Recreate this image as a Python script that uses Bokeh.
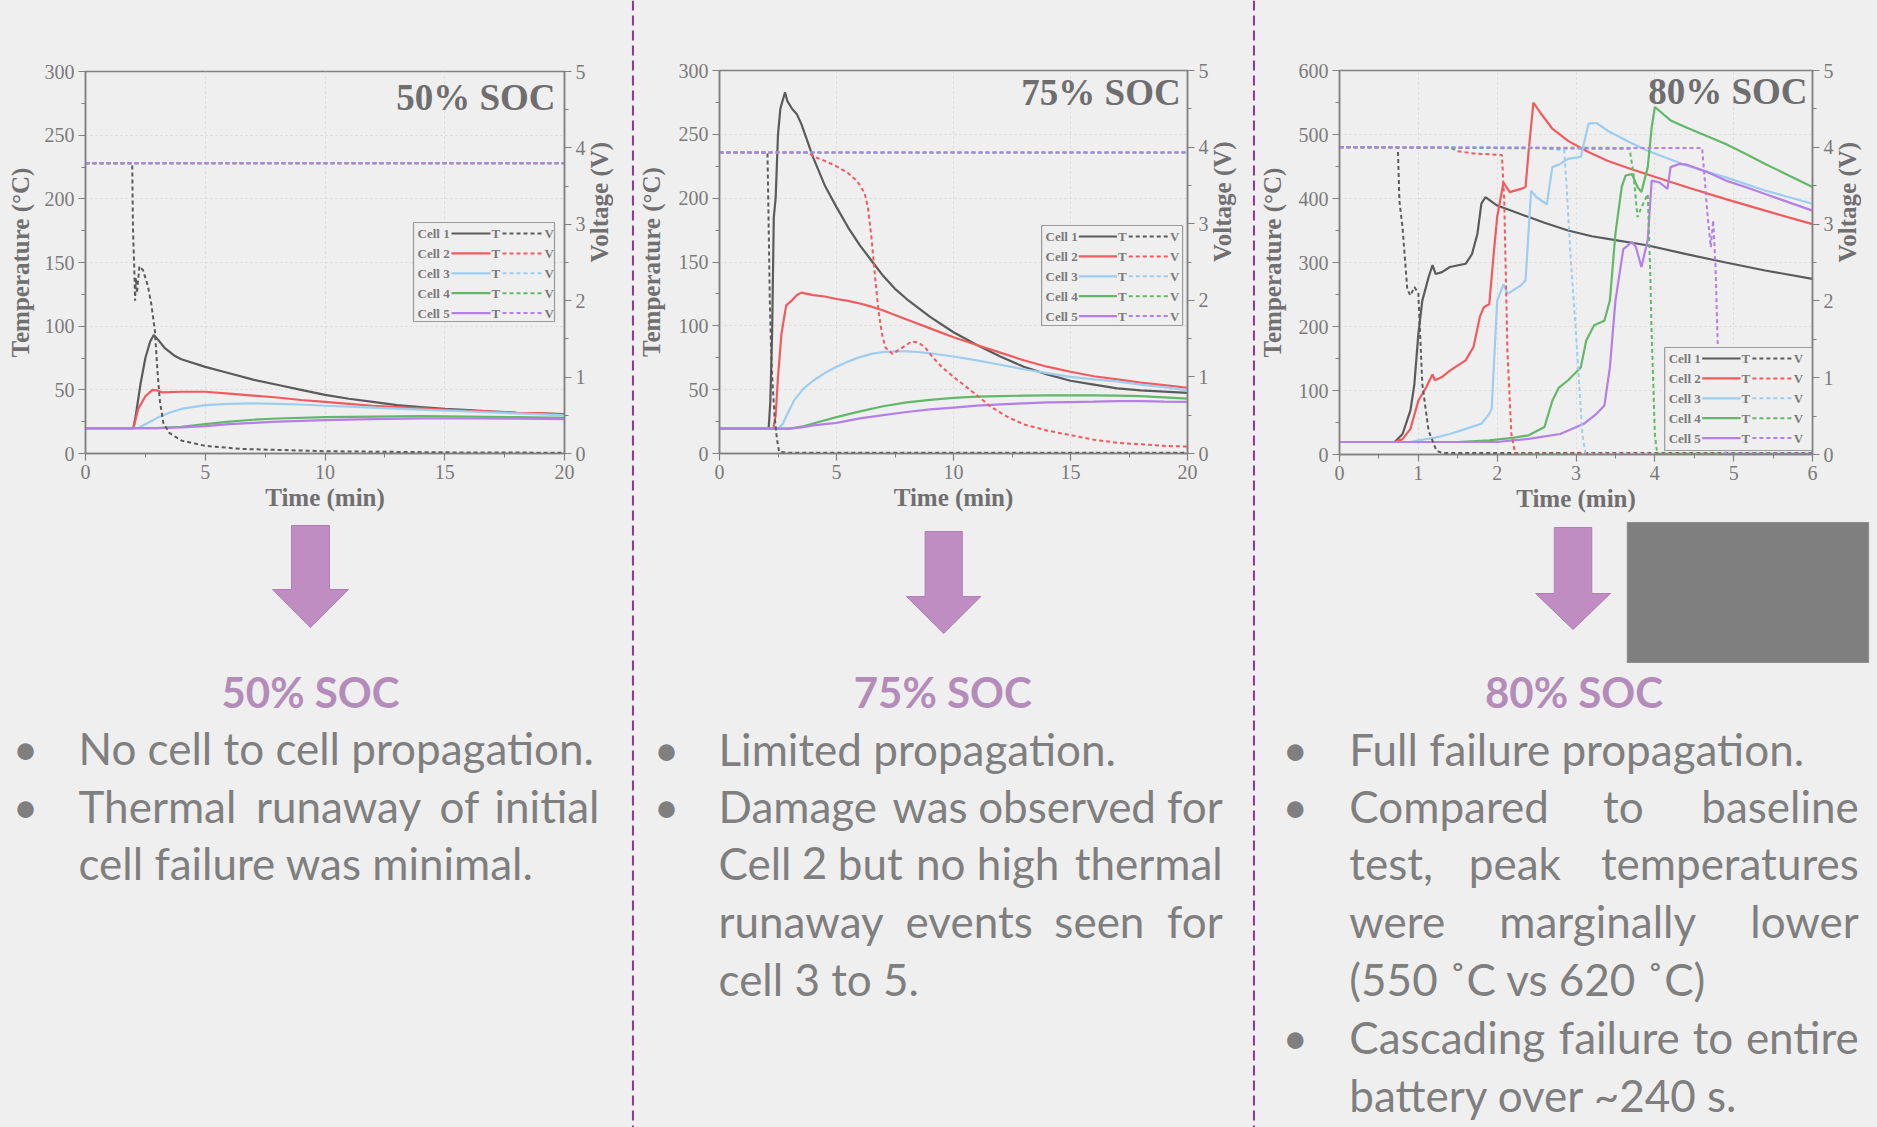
import numpy as np
from bokeh.plotting import figure
from bokeh.models import Range1d, LinearAxis, SingleIntervalTicker
from bokeh.layouts import row, column
from bokeh.embed import file_html
from bokeh.resources import INLINE
from bokeh.core.properties import value

# ---------------------------------------------------------------------------
# Data: cell temperatures (min, degC) and voltages (min, V) for three SOC tests
# ---------------------------------------------------------------------------
cell_names = ["Cell 1", "Cell 2", "Cell 3", "Cell 4", "Cell 5"]
cell_colors = ["#5b5b5b", "#f15b5d", "#9dcdf0", "#62b867", "#b47fe6"]

# 50% SOC
soc50_cell1_temp = [(0, 20), (2.0, 20), (2.1, 30), (2.3, 55), (2.5, 75), (2.7, 88), (2.85, 93), (3.0, 90),
                    (3.3, 83), (3.7, 77), (4.0, 74), (5, 68), (6, 63), (7, 58), (8, 54), (9, 50), (10, 46),
                    (11, 43), (12, 40.5), (13, 38), (14, 36.5), (15, 35), (16, 34), (17, 33), (18, 32),
                    (19, 31.5), (20, 31)]
soc50_cell2_temp = [(0, 20), (2.0, 20), (2.2, 35), (2.5, 45), (2.8, 50), (3.0, 49.5), (3.2, 48), (4, 48.5),
                    (5, 48.5), (6, 47), (7, 45.5), (8, 44), (9, 42), (10, 40.5), (11, 39), (12, 37.5),
                    (13, 36.5), (14, 35.5), (15, 34.5), (16, 33.5), (17, 33), (18, 32), (19, 31.5), (20, 30.5)]
soc50_cell3_temp = [(0, 20), (2.2, 20), (2.6, 24), (3, 28), (3.5, 32), (4, 35), (5, 38), (6, 39), (7, 39.3),
                    (8, 39), (9, 38.5), (10, 37.5), (12, 36), (14, 34.5), (16, 33), (18, 31.5), (20, 30)]
soc50_cell4_temp = [(0, 20), (3, 20), (4, 21), (5, 23), (6, 25), (7, 26.5), (8, 27.5), (10, 28.5), (12, 29),
                    (14, 29.3), (16, 29), (18, 28.5), (20, 28)]
soc50_cell5_temp = [(0, 20), (3, 20), (4, 20.5), (5, 21.5), (6, 23), (7, 24), (8, 25), (10, 26.2), (12, 27),
                    (14, 27.5), (16, 27.5), (18, 27.3), (20, 27)]
soc50_cell1_volt = [(0, 3.8), (1.95, 3.8), (1.98, 3.0), (2.0, 2.75), (2.03, 2.5), (2.07, 2.0), (2.1, 2.3),
                    (2.15, 2.1), (2.25, 2.45), (2.4, 2.4), (2.6, 2.2), (2.75, 1.95), (2.9, 1.6), (3.0, 1.1),
                    (3.1, 0.7), (3.25, 0.4), (3.5, 0.27), (4, 0.17), (5, 0.1), (6.5, 0.06), (10, 0.03),
                    (15, 0.015), (20, 0.01)]
soc50_cell2_volt = [(0, 3.8), (20, 3.8)]
soc50_cell3_volt = [(0, 3.8), (20, 3.8)]
soc50_cell4_volt = [(0, 3.8), (20, 3.8)]
soc50_cell5_volt = [(0, 3.8), (20, 3.8)]

# 75% SOC
soc75_cell1_temp = [(0, 19.5), (2.1, 19.5), (2.17, 40), (2.25, 95), (2.32, 185), (2.4, 200), (2.5, 250),
                    (2.6, 270), (2.8, 283), (2.9, 276), (3.1, 270), (3.3, 266), (3.5, 258), (4, 232),
                    (4.5, 210), (5, 193), (5.5, 177), (6, 163), (6.5, 151), (7, 139), (7.5, 129), (8, 121),
                    (9, 107), (10, 95), (11, 85), (12, 76), (13, 68), (14, 62), (15, 57), (16, 54), (17, 51),
                    (18, 49.5), (19, 48.5), (20, 47.5)]
soc75_cell2_temp = [(0, 19.5), (2.3, 19.5), (2.4, 30), (2.5, 60), (2.65, 94), (2.85, 116), (3.1, 120),
                    (3.3, 124), (3.5, 126), (4, 124), (4.5, 123), (5, 121), (5.5, 119.5), (6, 117.5),
                    (6.5, 115), (7, 112), (7.5, 108.5), (8, 105), (9, 98), (10, 91), (11, 85), (12, 79),
                    (13, 73), (14, 68), (15, 64), (16, 60.5), (17, 58), (18, 55.5), (19, 53.5), (20, 51.5)]
soc75_cell3_temp = [(0, 19.5), (2.5, 19.5), (2.7, 23), (2.9, 31), (3.2, 42), (3.6, 51), (4, 57), (4.5, 63),
                    (5, 68), (5.5, 72), (6, 75.5), (6.5, 78), (7, 79.5), (7.5, 80), (8, 80), (8.5, 79.5),
                    (9, 78.5), (10, 76), (11, 73), (12, 69.5), (13, 66), (14, 63), (15, 60), (16, 58),
                    (17, 56.5), (18, 54), (19, 52), (20, 49.5)]
soc75_cell4_temp = [(0, 19.5), (3, 19.5), (3.5, 21), (4, 23.5), (5, 28.5), (6, 33), (7, 37), (8, 40),
                    (9, 42), (10, 43.5), (11, 44.5), (12, 45), (13, 45.3), (14, 45.5), (15, 45.5),
                    (16, 45.5), (17, 45.3), (18, 45), (19, 44), (20, 43)]
soc75_cell5_temp = [(0, 19.5), (3, 19.5), (3.5, 20.5), (4, 22), (5, 24), (6, 27.5), (7, 30), (8, 32.5),
                    (9, 34.5), (10, 36), (11, 37.5), (12, 38.5), (13, 39.3), (14, 40), (15, 40.3),
                    (16, 40.6), (17, 41), (18, 41), (19, 40.7), (20, 40.5)]
soc75_cell1_volt = [(0, 3.93), (2.05, 3.93), (2.1, 3.0), (2.15, 2.0), (2.2, 1.4), (2.25, 1.0), (2.35, 0.5),
                    (2.45, 0.2), (2.55, 0.02), (3, 0.01), (20, 0.01)]
soc75_cell2_volt = [(0, 3.93), (3.8, 3.93), (4.0, 3.88), (4.5, 3.82), (5, 3.75), (5.5, 3.66), (5.9, 3.55),
                    (6.2, 3.4), (6.35, 3.2), (6.5, 2.8), (6.65, 2.3), (6.8, 1.85), (6.95, 1.55), (7.1, 1.38),
                    (7.4, 1.3), (7.7, 1.36), (8.2, 1.46), (8.5, 1.45), (8.8, 1.38), (9.1, 1.26), (9.5, 1.13),
                    (10, 1.0), (10.5, 0.88), (11, 0.76), (11.6, 0.61), (12.3, 0.48), (13, 0.38), (14, 0.3),
                    (15, 0.24), (16, 0.18), (17, 0.14), (18, 0.12), (19, 0.1), (20, 0.09)]
soc75_cell3_volt = [(0, 3.93), (20, 3.93)]
soc75_cell4_volt = [(0, 3.93), (20, 3.93)]
soc75_cell5_volt = [(0, 3.93), (20, 3.93)]

# 80% SOC
soc80_cell1_temp = [(0, 19.5), (0.7, 19.5), (0.8, 32), (0.9, 69), (0.95, 110), (1.0, 188), (1.05, 240),
                    (1.13, 277), (1.18, 296), (1.22, 282), (1.3, 285), (1.4, 293), (1.6, 298), (1.68, 313),
                    (1.75, 345), (1.8, 392), (1.85, 402), (2.0, 389), (2.2, 380), (2.4, 371), (2.6, 362),
                    (2.9, 350), (3.2, 341), (3.5, 335), (3.9, 327), (4.4, 313), (4.9, 300), (5.4, 287.5),
                    (6, 274.5)]
soc80_cell2_temp = [(0, 19.5), (0.7, 19.5), (0.8, 24), (0.9, 40), (1.0, 84), (1.1, 105), (1.18, 125),
                    (1.21, 116), (1.3, 121), (1.4, 131), (1.6, 147), (1.7, 168), (1.78, 215), (1.83, 230),
                    (1.9, 235), (1.96, 319), (2.0, 371), (2.08, 425), (2.16, 410), (2.3, 415), (2.36, 418),
                    (2.4, 475), (2.46, 550), (2.56, 532), (2.7, 509), (2.9, 490), (3.15, 473), (3.4, 459),
                    (3.65, 448), (3.9, 438), (4.4, 418), (4.9, 399), (5.4, 381), (6, 360)]
soc80_cell3_temp = [(0, 19.5), (0.9, 19.5), (1.0, 22), (1.2, 26), (1.4, 32), (1.6, 40), (1.8, 48),
                    (1.9, 63.5), (1.93, 71), (2.0, 240), (2.08, 266), (2.13, 251), (2.3, 264), (2.36, 272),
                    (2.43, 412), (2.5, 402), (2.63, 391), (2.7, 449), (2.8, 454), (2.9, 462), (3.06, 465),
                    (3.16, 517), (3.26, 518), (3.4, 506), (3.65, 490), (3.9, 475), (4.4, 451.5), (4.9, 433),
                    (5.4, 412.5), (6, 391.7)]
soc80_cell4_temp = [(0, 19.5), (1.5, 19.5), (1.9, 22), (2.2, 26), (2.4, 30), (2.6, 43), (2.7, 84),
                    (2.78, 104), (2.9, 116), (3.06, 136), (3.13, 178), (3.23, 202), (3.36, 209), (3.43, 241),
                    (3.5, 345), (3.58, 418), (3.63, 436), (3.71, 438), (3.78, 418), (3.83, 410), (3.91, 449),
                    (3.96, 511), (4.0, 543), (4.2, 522), (4.4, 511), (4.65, 498), (4.9, 485), (5.15, 470),
                    (5.4, 454), (5.7, 436), (6, 418)]
soc80_cell5_temp = [(0, 19.5), (2.0, 19.5), (2.4, 24.5), (2.8, 32), (3.1, 48), (3.26, 63.5), (3.36, 76.5),
                    (3.43, 136), (3.5, 240), (3.6, 321), (3.71, 332), (3.76, 324), (3.83, 293), (3.91, 335),
                    (3.96, 428), (4.06, 425), (4.16, 415), (4.2, 449), (4.31, 454), (4.4, 453), (4.65, 442),
                    (4.9, 428), (5.15, 418), (5.4, 407), (5.7, 394), (6, 381)]
soc80_cell1_volt = [(0, 4.0), (0.74, 4.0), (0.76, 3.3), (0.8, 2.95), (0.86, 2.15), (0.9, 2.07), (0.95, 2.18),
                    (1.0, 2.1), (1.05, 0.92), (1.13, 0.31), (1.23, 0.05), (1.3, 0.02), (6, 0.02)]
soc80_cell2_volt = [(0, 4.0), (1.4, 4.0), (1.5, 3.95), (1.7, 3.92), (2.06, 3.9), (2.09, 3.3), (2.13, 1.35),
                    (2.18, 0.27), (2.23, 0.01), (6, 0.01)]
soc80_cell3_volt = [(0, 4.0), (2.5, 4.0), (2.85, 3.96), (2.88, 3.5), (2.93, 2.6), (3.0, 1.57), (3.08, 0.27),
                    (3.12, 0.01), (6, 0.01)]
soc80_cell4_volt = [(0, 4.0), (3.68, 3.98), (3.73, 3.65), (3.78, 3.09), (3.83, 3.22), (3.91, 3.39),
                    (3.94, 2.44), (3.96, 1.57), (4.0, 0.27), (4.03, 0.01), (6, 0.01)]
soc80_cell5_volt = [(0, 4.0), (4.6, 3.99), (4.64, 3.5), (4.67, 3.1), (4.71, 2.7), (4.74, 3.05), (4.77, 2.44),
                    (4.8, 1.35), (4.85, 0.3), (4.9, 0.01), (6, 0.01)]

# Slide text
headings = ["50% SOC", "75% SOC", "80% SOC"]

# ---------------------------------------------------------------------------
# Styling
# ---------------------------------------------------------------------------
BG = "#f0eff0"
AXIS_GRAY = "#808080"
TICK_TEXT = "#7a7a7a"
LABEL_TEXT = "#707070"
BODY_TEXT = "#7f7f7f"
HEAD_COLOR = "#b48cb9"
ARROW_FILL = "#c08dc3"
ARROW_LINE = "#b27db6"
DIVIDER = "#8f3a94"
SERIF = "Liberation Serif"
SANS = "Lato"
PAGE_H = 1127
CHART_H = 522
BODY_PX = 44
HEAD_PX = 42
BASE_SHIFT = 0.4   # alphabetic baseline correction, in em


def xy(points):
    return [p[0] for p in points], [p[1] for p in points]


def build_chart(spec):
    x0, w = spec["x0"], spec["w"]
    fl, ft, fr, fb = spec["frame"]
    xmax, tmax = spec["xmax"], spec["tmax"]
    p = figure(width=w, height=CHART_H, x_range=Range1d(0, xmax), y_range=Range1d(0, tmax),
               output_backend="svg", toolbar_location=None,
               min_border_left=fl - x0, min_border_right=x0 + w - fr,
               min_border_top=ft, min_border_bottom=CHART_H - fb)
    p.extra_y_ranges = {"volt": Range1d(0, 5)}
    p.background_fill_color = BG
    p.border_fill_color = BG
    p.outline_line_color = AXIS_GRAY
    p.outline_line_width = 1.5

    p.xaxis.ticker = SingleIntervalTicker(interval=spec["xstep"], num_minor_ticks=2)
    p.yaxis.ticker = SingleIntervalTicker(interval=spec["tstep"], num_minor_ticks=2)
    p.xaxis.axis_label = "Time (min)"
    p.yaxis.axis_label = "Temperature (\u00b0C)"
    vax = LinearAxis(y_range_name="volt", ticker=SingleIntervalTicker(interval=1, num_minor_ticks=2),
                     axis_label="Voltage (V)")
    p.add_layout(vax, "right")

    for ax in [p.xaxis[0], p.yaxis[0], vax]:
        ax.axis_line_color = AXIS_GRAY
        ax.axis_line_width = 1.5
        ax.major_tick_line_color = AXIS_GRAY
        ax.minor_tick_line_color = AXIS_GRAY
        ax.major_tick_line_width = 1.2
        ax.minor_tick_line_width = 1.0
        ax.major_tick_out = 7
        ax.major_tick_in = 0
        ax.minor_tick_out = 4
        ax.minor_tick_in = 0
        ax.major_label_text_font = SERIF
        ax.major_label_text_font_size = "20px"
        ax.major_label_text_color = TICK_TEXT
        ax.major_label_standoff = 4
        ax.axis_label_text_font = SERIF
        ax.axis_label_text_font_style = "bold"
        ax.axis_label_text_font_size = "25px"
        ax.axis_label_text_color = LABEL_TEXT
    p.xaxis.axis_label_standoff = 2
    p.yaxis.axis_label_standoff = spec["ylab_standoff"]
    vax.axis_label_standoff = 11
    if "axis_label_orientation" in LinearAxis.properties():
        vax.axis_label_orientation = np.pi / 2

    for g in [p.xgrid, p.ygrid]:
        g.grid_line_color = "#d8d8d8"
        g.grid_line_dash = "2 3"
        g.grid_line_width = 1

    # temperature traces (solid) then voltage traces (dashed)
    for temps, col in zip(spec["temps"], cell_colors):
        xs, ys = xy(temps)
        p.line(xs, ys, line_color=col, line_width=2.2)
    for volts, col in zip(spec["volts"], cell_colors):
        xs, ys = xy(volts)
        p.line(xs, ys, line_color=col, line_width=2.0, line_dash="4 3", y_range_name="volt")

    def dx(px):
        return xmax * (px - fl) / (fr - fl)

    def dy(py):
        return tmax * (fb - py) / (fb - ft)

    # in-plot title
    p.text(x=[dx(spec["title_right"])], y=[dy(spec["title_base"] - BASE_SHIFT * 37)], text=[spec["title"]],
           text_align="right", text_baseline="alphabetic", text_font=value(SERIF),
           text_font_style="bold", text_font_size="37px", text_color="#6e6e6e")

    # legend: Cell n  ---- T - - - V
    bx0, by0, bx1, by1 = spec["legend"]
    p.quad(left=[dx(bx0)], right=[dx(bx1)], top=[dy(by0)], bottom=[dy(by1)],
           fill_color=BG, line_color="#9a9a9a", line_width=1.2)
    rows_y = [by0 + 11 + i * 19.9 for i in range(5)]
    for i, (name, col) in enumerate(zip(cell_names, cell_colors)):
        yy = dy(rows_y[i])
        p.line([dx(bx0 + 38), dx(bx0 + 77)], [yy, yy], line_color=col, line_width=2.2)
        p.line([dx(bx0 + 89), dx(bx0 + 130)], [yy, yy], line_color=col, line_width=2.0, line_dash="4 3")
    for txt, off in [(cell_names, 4), (["T"] * 5, 78), (["V"] * 5, 131)]:
        p.text(x=[dx(bx0 + off)] * 5, y=[dy(v) for v in rows_y], text=txt,
               text_align="left", text_baseline="middle", text_font=value(SERIF), text_font_style="bold",
               text_font_size="13px", text_color=TICK_TEXT)
    return p


def build_text_panel(spec, chart):
    # same horizontal borders as the chart above it, ranges in page pixels
    x0, w = spec["x0"], spec["w"]
    fl, _, fr, _ = chart["frame"]
    p = figure(width=w, height=PAGE_H - CHART_H, x_range=Range1d(fl, fr),
               y_range=Range1d(PAGE_H, CHART_H), output_backend="svg", toolbar_location=None,
               x_axis_type=None, y_axis_type=None,
               min_border_left=fl - x0, min_border_right=x0 + w - fr, min_border_top=0, min_border_bottom=0)
    p.grid.visible = False
    p.outline_line_color = None
    p.background_fill_color = BG
    p.border_fill_color = BG

    rs = []
    cx, top, neck, tip = spec["arrow"]
    rs.append(p.patch([cx - 19, cx + 19, cx + 19, cx + 38, cx, cx - 38, cx - 19],
                      [top, top, neck, neck, tip, neck, neck],
                      fill_color=ARROW_FILL, line_color=ARROW_LINE, line_width=1))

    if "box" in spec:
        l, t, r, b = spec["box"]
        rs.append(p.quad(left=[l], right=[r], top=[t], bottom=[b], fill_color="#7f7f7f",
                         line_color="#8c8c8c"))

    rs.append(p.text(x=[spec["head_cx"]], y=[708 - BASE_SHIFT * HEAD_PX], text=[spec["heading"]],
                     text_align="center", text_baseline="alphabetic", text_font=value(SANS),
                     text_font_style="bold", text_font_size=f"{HEAD_PX}px", text_color=HEAD_COLOR))

    bx, bys = spec["bullets"]
    rs.append(p.text(x=[bx] * len(bys), y=[b - BASE_SHIFT * BODY_PX for b in bys], text=["\u2022"] * len(bys),
                     text_align="center", text_baseline="alphabetic", text_font=value(SANS),
                     text_font_size=f"{BODY_PX}px", text_color=BODY_TEXT))

    groups = {"left": ([], [], []), "center": ([], [], []), "right": ([], [], [])}
    for base, words in spec["lines"]:
        for word, xpos, align in words:
            gx, gy, gt = groups[align]
            gx.append(xpos)
            gy.append(base - BASE_SHIFT * BODY_PX)
            gt.append(word)
    for align, (gx, gy, gt) in groups.items():
        if gt:
            rs.append(p.text(x=gx, y=gy, text=gt, text_align=align, text_baseline="alphabetic",
                             text_font=value(SANS), text_font_size=f"{BODY_PX}px", text_color=BODY_TEXT))
    for r in rs:
        r.level = "overlay"
    return p


def build_divider():
    p = figure(width=3, height=PAGE_H, x_range=Range1d(0, 3), y_range=Range1d(PAGE_H, 0),
               output_backend="svg", toolbar_location=None, x_axis_type=None, y_axis_type=None,
               min_border=0)
    p.grid.visible = False
    p.outline_line_color = None
    p.background_fill_color = BG
    p.border_fill_color = BG
    p.line([1.5, 1.5], [0, PAGE_H], line_color=DIVIDER, line_width=2.2, line_dash="10 5")
    return p


charts = [
    dict(x0=0, w=631, frame=(85, 71, 564, 453), xmax=20, xstep=5, tmax=300, tstep=50,
         title=headings[0], title_right=555, title_base=112, legend=(413, 222, 554, 321), ylab_standoff=8,
         temps=[soc50_cell1_temp, soc50_cell2_temp, soc50_cell3_temp, soc50_cell4_temp, soc50_cell5_temp],
         volts=[soc50_cell1_volt, soc50_cell2_volt, soc50_cell3_volt, soc50_cell4_volt, soc50_cell5_volt]),
    dict(x0=634, w=618, frame=(713, 70, 1191, 453), xmax=20, xstep=5, tmax=300, tstep=50,
         title=headings[1], title_right=1184, title_base=107, legend=(1042, 225, 1186, 325), ylab_standoff=11,
         temps=[soc75_cell1_temp, soc75_cell2_temp, soc75_cell3_temp, soc75_cell4_temp, soc75_cell5_temp],
         volts=[soc75_cell1_volt, soc75_cell2_volt, soc75_cell3_volt, soc75_cell4_volt, soc75_cell5_volt]),
    dict(x0=1255, w=622, frame=(1337, 70, 1817, 454), xmax=6, xstep=1, tmax=600, tstep=100,
         title=headings[2], title_right=1812, title_base=106, legend=(1667, 347, 1817, 450), ylab_standoff=10,
         temps=[soc80_cell1_temp, soc80_cell2_temp, soc80_cell3_temp, soc80_cell4_temp, soc80_cell5_temp],
         volts=[soc80_cell1_volt, soc80_cell2_volt, soc80_cell3_volt, soc80_cell4_volt, soc80_cell5_volt]),
]

panels = [
    dict(x0=0, w=631, heading=headings[0], head_cx=310, arrow=(310, 525, 589, 627),
         bullets=(25, [765, 823]),
         lines=[(765, [("No cell to cell propagation.", 78, "left")]),
                (823, [("Thermal", 78, "left"), ("runaway", 338, "center"), ("of", 459, "center"),
                       ("initial", 599, "right")]),
                (880, [("cell failure was minimal.", 78, "left")])]),
    dict(x0=634, w=618, heading=headings[1], head_cx=941, arrow=(942, 531, 596, 633),
         bullets=(659, [766, 823]),
         lines=[(766, [("Limited propagation.", 712, "left")]),
                (823, [("Damage", 712, "left"), ("was", 928, "center"), ("observed", 1068, "center"),
                       ("for", 1227, "right")]),
                (880, [("Cell", 712, "left"), ("2", 810, "center"), ("but", 867, "center"),
                       ("no", 939, "center"), ("high", 1018, "center"), ("thermal", 1227, "right")]),
                (938, [("runaway", 712, "left"), ("events", 968, "center"), ("seen", 1101, "center"),
                       ("for", 1227, "right")]),
                (996, [("cell 3 to 5.", 712, "left")])]),
    dict(x0=1255, w=622, heading=headings[2], head_cx=1575, arrow=(1574, 527, 593, 629),
         box=(1629, 522, 1874, 662),
         bullets=(1292, [766, 823, 1054]),
         lines=[(766, [("Full failure propagation.", 1347, "left")]),
                (823, [("Compared", 1347, "left"), ("to", 1625, "center"), ("baseline", 1864, "right")]),
                (880, [("test,", 1347, "left"), ("peak", 1515, "center"), ("temperatures", 1864, "right")]),
                (938, [("were", 1347, "left"), ("marginally", 1599, "center"), ("lower", 1864, "right")]),
                (996, [("(550 \u02daC vs 620 \u02daC)", 1347, "left")]),
                (1054, [("Cascading", 1347, "left"), ("failure", 1621, "center"), ("to", 1716, "center"),
                        ("entire", 1864, "right")]),
                (1112, [("battery over ~240 s.", 1347, "left")])]),
]

cols = [column(build_chart(c), build_text_panel(t, c)) for c, t in zip(charts, panels)]
layout = row(cols[0], build_divider(), cols[1], build_divider(), cols[2])
layout.styles = {"background-color": BG}

open("out.html", "w").write(file_html(layout, INLINE))
